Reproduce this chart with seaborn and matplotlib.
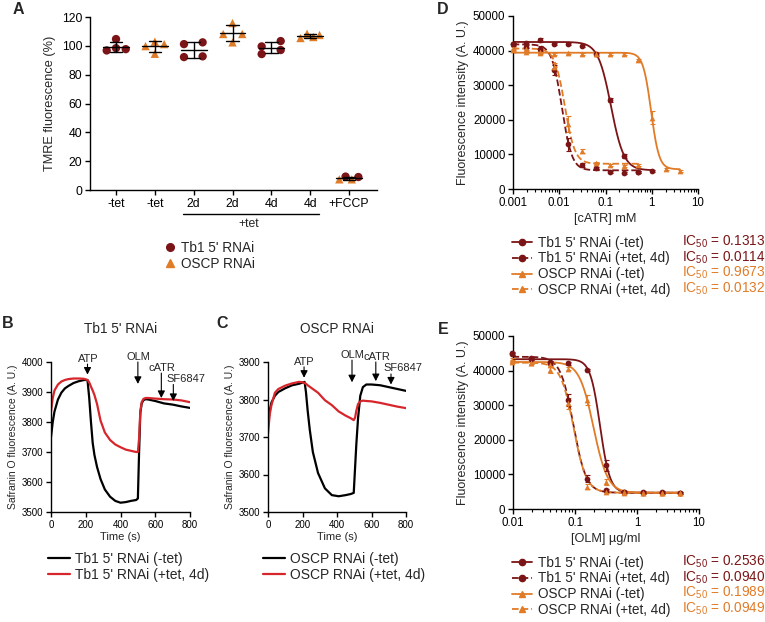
import numpy as np
import pandas as pd
import matplotlib
matplotlib.use("Agg")
import matplotlib.pyplot as plt
from matplotlib.lines import Line2D
from matplotlib.ticker import LogLocator, NullFormatter
import seaborn as sns

# --- Colours ---
DARK_RED = "#7B1416"
ORANGE = "#E07B28"
TRACE_RED = "#D7262B"

# --- Panel A: TMRE fluorescence (%) ---
A_TICKS = ["-tet", "-tet", "2d", "2d", "4d", "4d", "+FCCP"]
A_TB1_NOTET = [96.8, 104.7, 98.4, 97.7]
A_OSCP_NOTET = [99.8, 102.9, 101.2, 94.5]
A_TB1_2D = [101.2, 102.4, 92.2, 92.7]
A_OSCP_2D = [115.8, 108.2, 108.2, 102.4]
A_TB1_4D = [99.6, 103.3, 94.3, 97.1]
A_OSCP_4D = [105.4, 108.4, 106.1, 107.5]
A_FCCP_TB1 = [9.3, 9.0]
A_FCCP_OSCP = [7.4, 7.4]

# --- Panel B / C: safranin O traces ---
B_TIME = [0, 10, 20, 40, 60, 80, 100, 130, 160, 190, 210, 220, 230, 240, 250, 265,
          285, 310, 340, 370, 400, 430, 460, 490, 500, 507, 514, 522, 532, 545, 560,
          600, 650, 700, 750, 800]
B_NOTET = [3750, 3800, 3835, 3875, 3898, 3912, 3920, 3930, 3936, 3940, 3940, 3880,
           3800, 3730, 3690, 3650, 3610, 3575, 3551, 3537, 3531, 3533, 3537, 3540,
           3545, 3700, 3830, 3862, 3873, 3876, 3875, 3870, 3862, 3858, 3852, 3847]
B_TET = [3835, 3880, 3905, 3925, 3935, 3940, 3943, 3945, 3945, 3944, 3940, 3932,
         3918, 3905, 3890, 3860, 3805, 3765, 3740, 3725, 3716, 3708, 3704, 3700,
         3700, 3745, 3835, 3866, 3877, 3880, 3880, 3878, 3876, 3875, 3872, 3866]

C_TIME = [0, 10, 20, 40, 60, 100, 140, 180, 200, 212, 220, 230, 242, 260, 290, 330,
          370, 410, 450, 480, 497, 505, 512, 522, 535, 550, 570, 600, 650, 700, 750, 800]
C_NOTET = [3733, 3770, 3792, 3810, 3820, 3830, 3838, 3842, 3845, 3847, 3820, 3770,
           3720, 3660, 3604, 3563, 3545, 3542, 3545, 3548, 3551, 3620, 3680, 3750,
           3810, 3833, 3840, 3840, 3838, 3833, 3828, 3823]
C_TET = [3709, 3760, 3785, 3818, 3828, 3837, 3843, 3847, 3846, 3844, 3842, 3838,
         3834, 3828, 3818, 3798, 3785, 3768, 3757, 3750, 3745, 3752, 3770, 3788,
         3795, 3797, 3796, 3795, 3791, 3786, 3781, 3777]

# --- Panel D: cATR titration ---
D_X = [0.00098, 0.00195, 0.0039, 0.0078, 0.0156, 0.03125, 0.0625, 0.125, 0.25, 0.5, 1, 2, 4]
D_TB1_NOTET = [41800, 42200, 43100, 41800, 41800, 41300, 38900, 25700, 9650, 4800, 5200]
D_TB1_NOTET_SD = [400, 300, 500, 300, 300, 300, 400, 700, 600, 300, 300]
D_TB1_TET = [41800, 41100, 40600, 34400, 12900, 6900, 6100, 4800, 4600, 4800]
D_TB1_TET_SD = [300, 400, 800, 1500, 1800, 500, 400, 300, 300, 300]
D_OSCP_NOTET = [40200, 39500, 39200, 39100, 39200, 39000, 39000, 39100, 39000, 37300,
                20600, 5900, 5300]
D_OSCP_NOTET_SD = [400, 300, 300, 300, 300, 300, 300, 300, 300, 400, 1800, 300, 300]
D_OSCP_TET = [40600, 40400, 39700, 35300, 18700, 11000, 7500, 6900, 6600, 7000]
D_OSCP_TET_SD = [300, 300, 400, 1200, 2300, 500, 400, 300, 300, 300]
# fitted curve parameters: top, bottom, IC50, hill slope, last concentration
D_TOP = [42500, 41800, 39400, 40600]
D_BOTTOM = [5400, 5400, 5700, 7300]
D_IC50 = [0.1313, 0.0114, 0.9673, 0.0132]
D_HILL = [3.1, 4.0, 5.0, 4.0]
D_XMAX = [1, 0.5, 4, 0.5]

# --- Panel E: OLM titration ---
E_X = [0.0098, 0.0195, 0.039, 0.078, 0.156, 0.3125, 0.625, 1.25, 2.5, 5]
E_TB1_NOTET = [44800, 43300, 42400, 42100, 40200, 12600, 4800, 4800, 4800, 4700]
E_TB1_NOTET_SD = [400, 300, 400, 400, 400, 1500, 300, 300, 300, 300]
E_TB1_TET = [45000, 43500, 42100, 31500, 8800, 5400, 4800, 4700, 4700, 4700]
E_TB1_TET_SD = [400, 300, 400, 1800, 1000, 400, 300, 300, 300, 300]
E_OSCP_NOTET = [43100, 42300, 41600, 40600, 31500, 7800, 4800, 4700, 4700, 4700]
E_OSCP_NOTET_SD = [400, 300, 400, 400, 1500, 800, 300, 300, 300, 300]
E_OSCP_TET = [42600, 42100, 40200, 30500, 6400, 4900, 4700, 4700, 4700, 4600]
E_OSCP_TET_SD = [400, 300, 800, 1500, 700, 300, 300, 300, 300, 300]
E_TOP = [43300, 44000, 42500, 42300]
E_BOTTOM = [4700, 4700, 4700, 4700]
E_IC50 = [0.2536, 0.0940, 0.1989, 0.0949]
E_HILL = [5.5, 4.2, 3.8, 4.2]

LEGEND_LABELS = ["Tb1 5' RNAi (-tet)", "Tb1 5' RNAi (+tet, 4d)",
                 "OSCP RNAi (-tet)", "OSCP RNAi (+tet, 4d)"]
SERIES_COLORS = [DARK_RED, DARK_RED, ORANGE, ORANGE]
SERIES_MARKERS = ["o", "o", "^", "^"]
SERIES_LS = ["-", "--", "-", "--"]

# --- Style ---
sns.set_theme(style="ticks")
plt.rcParams["font.family"] = ["Liberation Sans", "DejaVu Sans"]
plt.rcParams["mathtext.fontset"] = "custom"
plt.rcParams["mathtext.rm"] = "Liberation Sans"
plt.rcParams["axes.linewidth"] = 1.0
plt.rcParams["xtick.major.width"] = 1.0
plt.rcParams["ytick.major.width"] = 1.0
plt.rcParams["xtick.major.size"] = 3.5
plt.rcParams["ytick.major.size"] = 3.5
plt.rcParams["xtick.major.pad"] = 2
plt.rcParams["ytick.major.pad"] = 2
plt.rcParams["axes.edgecolor"] = "black"
plt.rcParams["xtick.color"] = "black"
plt.rcParams["ytick.color"] = "black"

LEG_FS = 9.8

W, H = 765, 622
fig = plt.figure(figsize=(W / 100, H / 100), dpi=100)


def add_ax(left, top, right, bottom):
    return fig.add_axes([left / W, 1 - bottom / H, (right - left) / W, (bottom - top) / H])


def logistic(x, top, bottom, ic50, hill):
    return bottom + (top - bottom) / (1 + (x / ic50) ** hill)


axA = add_ax(90, 17, 377, 190)
axB = add_ax(51, 362, 190, 512)
axC = add_ax(268, 362, 406, 512)
axD = add_ax(513, 16, 698, 189)
axE = add_ax(513, 336, 699, 509)

# ---------------- Panel A ----------------
A_GROUPS = [
    (0, A_TB1_NOTET, "Tb1", [-0.24, 0.0, 0.0, 0.25]),
    (1, A_OSCP_NOTET, "OSCP", [-0.24, 0.0, 0.24, 0.0]),
    (2, A_TB1_2D, "Tb1", [-0.25, 0.23, -0.25, 0.23]),
    (3, A_OSCP_2D, "OSCP", [0.0, -0.24, 0.25, 0.0]),
    (4, A_TB1_4D, "Tb1", [-0.25, 0.24, -0.25, 0.24]),
    (5, A_OSCP_4D, "OSCP", [-0.25, -0.08, 0.08, 0.24]),
    (6, A_FCCP_TB1, "Tb1", [-0.09, 0.24]),
    (6, A_FCCP_OSCP, "OSCP", [-0.25, 0.07]),
]
rows = []
for pos, vals, line, jit in A_GROUPS:
    for v, j in zip(vals, jit):
        rows.append({"x": pos + j, "pos": pos, "value": v, "line": line})
dfA = pd.DataFrame(rows)

sns.scatterplot(data=dfA, x="x", y="value", hue="line", style="line",
                palette={"Tb1": DARK_RED, "OSCP": ORANGE},
                markers={"Tb1": "o", "OSCP": "^"}, s=36, linewidth=0,
                legend=False, ax=axA, zorder=3, clip_on=False)

for pos, grp in dfA.groupby("pos"):
    m = grp["value"].mean()
    sd = grp["value"].std(ddof=1)
    axA.plot([pos - 0.33, pos + 0.33], [m, m], color="black", lw=1, zorder=4)
    axA.plot([pos, pos], [m - sd, m + sd], color="black", lw=1, zorder=4)
    for yy in (m - sd, m + sd):
        axA.plot([pos - 0.16, pos + 0.16], [yy, yy], color="black", lw=1, zorder=4)

axA.set_xlim(-0.67, 6.72)
axA.set_ylim(0, 120)
axA.set_yticks(range(0, 121, 20))
axA.set_xticks(range(7))
axA.set_xticklabels(A_TICKS)
axA.tick_params(labelsize=8.8)
axA.set_xlabel("")
axA.set_ylabel("TMRE fluorescence (%)", fontsize=9.2, labelpad=4)
sns.despine(ax=axA)
tr = axA.get_xaxis_transform()
axA.plot([1.72, 5.22], [-0.139, -0.139], transform=tr, color="black", lw=1, clip_on=False)
axA.text(3.42, -0.197, "+tet", transform=tr, ha="center", va="center", fontsize=8.8)

a_handles = [Line2D([], [], ls="none", marker="o", color=DARK_RED, markersize=5.5),
             Line2D([], [], ls="none", marker="^", color=ORANGE, markersize=5.5)]
fig.legend(a_handles, ["Tb1 5' RNAi", "OSCP RNAi"], loc="upper left",
           bbox_to_anchor=(165 / W, 1 - 240.5 / H), frameon=False, fontsize=LEG_FS,
           handlelength=0.8, handletextpad=0.4, labelspacing=0.2,
           borderpad=0, borderaxespad=0)


# ---------------- Panels B / C ----------------
def trace_panel(ax, t, black, red, ymax, title, notes, labels, leg_x):
    sns.lineplot(x=t, y=black, color="black", lw=1.6, ax=ax)
    sns.lineplot(x=t, y=red, color=TRACE_RED, lw=1.6, ax=ax)
    ax.set_xlim(0, 800)
    ax.set_ylim(3500, ymax)
    ax.set_xticks(range(0, 801, 200))
    ax.set_yticks(range(3500, ymax + 1, 100))
    ax.tick_params(labelsize=7)
    ax.set_xlabel("Time (s)", fontsize=8, labelpad=2)
    ax.set_ylabel("Safranin O fluorescence (A. U.)", fontsize=7.5, labelpad=3)
    sns.despine(ax=ax)
    ax.text(0.5, 1.22, title, transform=ax.transAxes, ha="center", va="center", fontsize=9.8)
    for label, tx, ty, ax_x, y0, y1, ha in notes:
        ax.text(tx, ty, label, ha=ha, va="center", fontsize=8, clip_on=False)
        ax.annotate("", xy=(ax_x, y1), xytext=(ax_x, y0), annotation_clip=False,
                    arrowprops=dict(arrowstyle="-|>,head_length=0.35,head_width=0.18",
                                    color="black", lw=0.8, shrinkA=0, shrinkB=0))
    handles = [Line2D([], [], color="black", lw=1.6), Line2D([], [], color=TRACE_RED, lw=1.6)]
    fig.legend(handles, labels, loc="upper left", bbox_to_anchor=(leg_x / W, 1 - 552 / H),
               frameon=False, fontsize=10, handlelength=1.6, handletextpad=0.35,
               labelspacing=0.12, borderpad=0, borderaxespad=0)


B_NOTES = [("ATP", 212, 4010, 210, 3993, 3958, "center"),
           ("OLM", 501, 4017, 500, 4000, 3927, "center"),
           ("cATR", 640, 3980, 635, 3963, 3880, "center"),
           ("SF6847", 662, 3943, 704, 3925, 3870, "left")]
C_NOTES = [("ATP", 209, 3900, 209, 3887, 3858, "center"),
           ("OLM", 487, 3919, 487, 3905, 3846, "center"),
           ("cATR", 633, 3913, 625, 3900, 3849, "center"),
           ("SF6847", 672, 3884, 713, 3868, 3840, "left")]

trace_panel(axB, B_TIME, B_NOTET, B_TET, 4000, "Tb1 5' RNAi", B_NOTES,
            ["Tb1 5' RNAi (-tet)", "Tb1 5' RNAi (+tet, 4d)"], 48)
trace_panel(axC, C_TIME, C_NOTET, C_TET, 3900, "OSCP RNAi", C_NOTES,
            ["OSCP RNAi (-tet)", "OSCP RNAi (+tet, 4d)"], 263)


# ---------------- Panels D / E ----------------
def dose_panel(ax, xs_list, ys_list, sd_list, tops, bottoms, ic50s, hills, xmin, xmaxs,
               xlim, xticks, xticklabels, xlabel, legend_top):
    for i in range(4):
        xs = xs_list[i]
        c = SERIES_COLORS[i]
        grid = np.logspace(np.log10(xmin), np.log10(xmaxs[i]), 300)
        sns.lineplot(x=grid, y=logistic(grid, tops[i], bottoms[i], ic50s[i], hills[i]),
                     color=c, lw=1.3, linestyle=SERIES_LS[i], ax=ax, zorder=2)
        ax.errorbar(xs, ys_list[i], yerr=sd_list[i], fmt="none", ecolor=c,
                    elinewidth=0.8, capsize=1.8, capthick=0.8, zorder=3, clip_on=False)
        sns.scatterplot(x=xs, y=ys_list[i], color=c, marker=SERIES_MARKERS[i], s=17,
                        linewidth=0, ax=ax, zorder=4, clip_on=False)
    ax.set_xscale("log")
    ax.set_xlim(*xlim)
    ax.set_ylim(0, 50000)
    ax.set_yticks(range(0, 50001, 10000))
    ax.set_xticks(xticks)
    ax.set_xticklabels(xticklabels)
    ax.xaxis.set_minor_locator(LogLocator(base=10, subs=np.arange(2, 10), numticks=20))
    ax.xaxis.set_minor_formatter(NullFormatter())
    ax.tick_params(which="minor", length=2, width=0.8)
    ax.tick_params(labelsize=8.3)
    ax.set_xlabel(xlabel, fontsize=9.2, labelpad=3)
    ax.set_ylabel("Fluorescence intensity (A. U.)", fontsize=9, labelpad=3)
    sns.despine(ax=ax)
    handles = [Line2D([], [], color=SERIES_COLORS[i], ls=SERIES_LS[i], lw=1.3,
                      marker=SERIES_MARKERS[i], markersize=4.5) for i in range(4)]
    fig.legend(handles, LEGEND_LABELS, loc="upper left",
               bbox_to_anchor=(512 / W, 1 - (legend_top - 6.5) / H), frameon=False,
               fontsize=LEG_FS, handlelength=1.5, handletextpad=0.4, labelspacing=0.14,
               borderpad=0, borderaxespad=0)
    for i in range(4):
        fig.text(682 / W, 1 - (legend_top + i * 15.6) / H,
                 "IC$_{50}$ = %.4f" % ic50s[i], color=SERIES_COLORS[i],
                 fontsize=LEG_FS, va="center", ha="left")


dose_panel(axD, [D_X[:11], D_X[:10], D_X[:13], D_X[:10]],
           [D_TB1_NOTET, D_TB1_TET, D_OSCP_NOTET, D_OSCP_TET],
           [D_TB1_NOTET_SD, D_TB1_TET_SD, D_OSCP_NOTET_SD, D_OSCP_TET_SD],
           D_TOP, D_BOTTOM, D_IC50, D_HILL, D_X[0], D_XMAX,
           (0.001, 10), [0.001, 0.01, 0.1, 1, 10], ["0.001", "0.01", "0.1", "1", "10"],
           "[cATR] mM", 242)

dose_panel(axE, [E_X] * 4,
           [E_TB1_NOTET, E_TB1_TET, E_OSCP_NOTET, E_OSCP_TET],
           [E_TB1_NOTET_SD, E_TB1_TET_SD, E_OSCP_NOTET_SD, E_OSCP_TET_SD],
           E_TOP, E_BOTTOM, E_IC50, E_HILL, E_X[0], [E_X[-1]] * 4,
           (0.01, 10), [0.01, 0.1, 1, 10], ["0.01", "0.1", "1", "10"],
           "[OLM] \u00b5g/ml", 562)

# panel letters
for letter, x, y in [("A", 18, 10), ("B", 8, 323), ("C", 222, 323), ("D", 443, 10), ("E", 443, 330)]:
    fig.text(x / W, 1 - y / H, letter, fontsize=11.5, fontweight="bold", ha="center", va="center")

fig.savefig("out.png", dpi=100)
